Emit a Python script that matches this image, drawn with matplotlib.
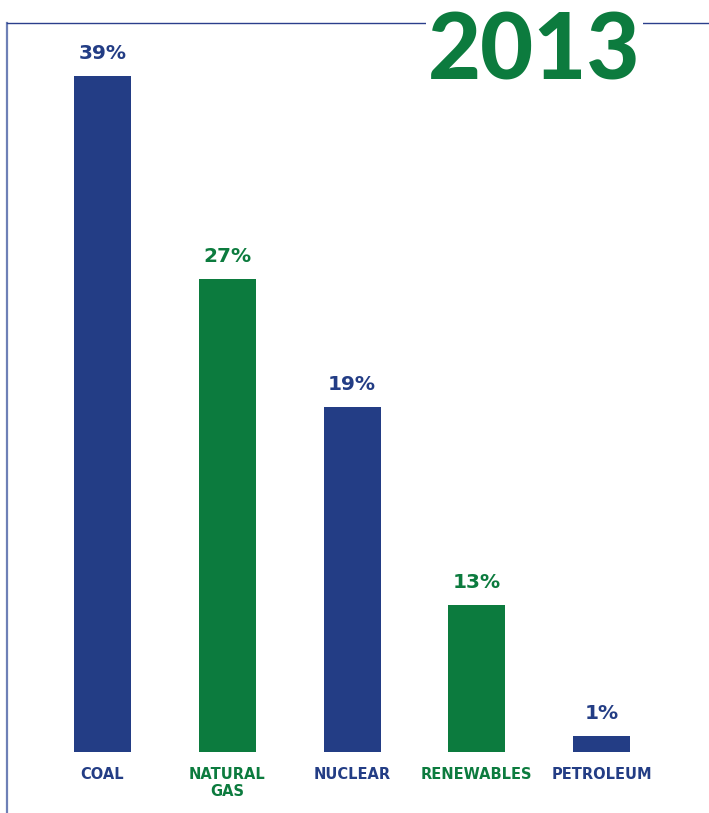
import matplotlib
matplotlib.use('Agg')
import matplotlib.pyplot as plt

# data
categories = ['COAL', 'NATURAL\nGAS', 'NUCLEAR', 'RENEWABLES', 'PETROLEUM']
share_labels = ['39%', '27%', '19%', '13%', '1%']
# drawn bar heights (the picture does not scale the bars exactly to the labels)
bar_heights = [39, 27.3, 19.9, 8.5, 0.9]
year = '2013'

BLUE = '#233d85'
GREEN = '#0c7b3e'
bar_colors = [BLUE, GREEN, BLUE, GREEN, BLUE]

W, H = 709, 813
fig = plt.figure(figsize=(W / 100, H / 100), dpi=100)

# axes = frame: left edge at x=7.5 px, top at y=23 px, down to the bottom edge
left_px, top_px, base_px = 7.5, 23, 752
px_per_unit = (base_px - 76) / bar_heights[0]
ax = fig.add_axes([left_px / W, 0, 1 - left_px / W, (H - top_px) / H])
ax.set_ylim(-(H - base_px) / px_per_unit, (base_px - top_px) / px_per_unit)
step = 124.75
ax.set_xlim((left_px - 102.5) / step, (W - 102.5) / step)

x = range(len(categories))
ax.bar(x, bar_heights, width=57 / step, color=bar_colors, zorder=2)

for i, (h, lab, cat, c) in enumerate(zip(bar_heights, share_labels, categories, bar_colors)):
    ax.annotate(lab, xy=(i, h), xytext=(0, 17), textcoords='offset pixels',
                ha='center', va='baseline', fontsize=14.5, fontweight='bold',
                color=c, family='DejaVu Sans')
    # baseline alignment uses the last line, so push multi-line labels down
    nlines = cat.count('\n') + 1
    ax.annotate(cat, xy=(i, 0), xytext=(0, -27 - 17 * (nlines - 1)),
                textcoords='offset pixels', ha='center', va='baseline',
                fontsize=10.5, fontweight='bold', color=c,
                family='DejaVu Sans', linespacing=1.2)

for s in ['right', 'bottom']:
    ax.spines[s].set_visible(False)
ax.spines['top'].set_color('#2b3f8c')
ax.spines['top'].set_linewidth(1.0)
ax.spines['left'].set_color('#6e80b6')
ax.spines['left'].set_linewidth(1.6)
ax.set_xticks([])
ax.set_yticks([])

# year title sitting over the top frame line
fig.text(534.5 / W, 1 - 80 / H, year, ha='center', va='baseline',
         fontsize=66, fontweight='black', family='Lato', color=GREEN,
         bbox=dict(facecolor='white', edgecolor='none', pad=1))

fig.savefig('out.png', dpi=100)
